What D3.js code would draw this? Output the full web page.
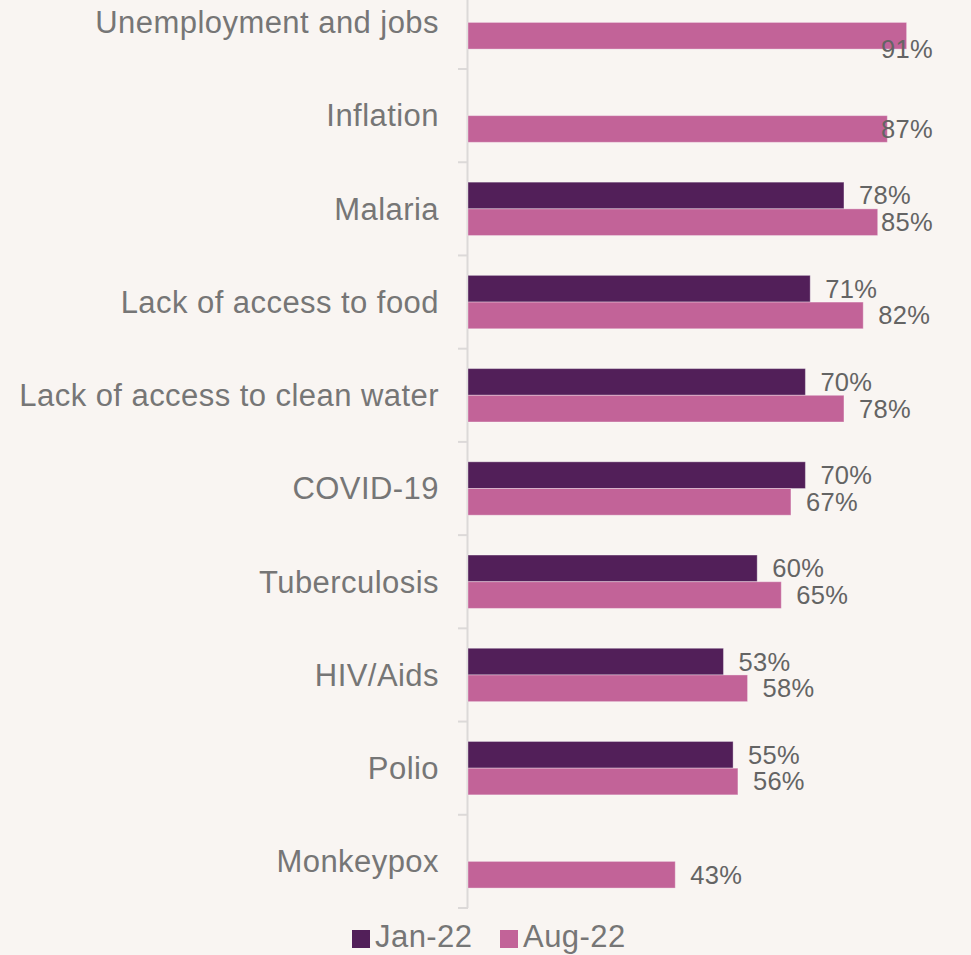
<!DOCTYPE html>
<html>
<head>
<meta charset="utf-8">
<script src="https://cdn.jsdelivr.net/npm/d3@7/dist/d3.min.js"></script>
<style>
  html, body { margin: 0; padding: 0; background: #f9f5f2; }
  svg { display: block; font-family: "Liberation Sans", Arial, sans-serif; }
</style>
</head>
<body>
<svg id="chart" width="971" height="955"></svg>
<script>
// Share of respondents naming each issue, two survey waves
const categories = [
  "Unemployment and jobs",
  "Inflation",
  "Malaria",
  "Lack of access to food",
  "Lack of access to clean water",
  "COVID-19",
  "Tuberculosis",
  "HIV/Aids",
  "Polio",
  "Monkeypox"
];
const seriesNames = ["Jan-22", "Aug-22"];
const jan22 = [null, null, 78, 71, 70, 70, 60, 53, 55, null];
const aug22 = [91, 87, 85, 82, 78, 67, 65, 58, 56, 43];
const seriesColors = ["#521f59", "#c26398"];

const svg = d3.select("#chart");

const axisX = 468;
const plotRight = 933;

const y = d3.scaleBand()
  .domain(categories)
  .range([-24.2, 908])
  .paddingInner(0)
  .paddingOuter(0);

const barH = 26.7;
const inner = d3.scaleBand()
  .domain(seriesNames)
  .range([y.bandwidth() / 2 - barH, y.bandwidth() / 2 + barH]);

const x = d3.scaleLinear().domain([0, 100]).range([axisX, axisX + 482]);

const rows = categories.map((c, i) => ({
  cat: c,
  values: [jan22[i], aug22[i]]
}));

// Category axis on the left with band-boundary ticks
const axisG = svg.append("g");
axisG.append("line")
  .attr("x1", axisX - 0.5).attr("x2", axisX - 0.5)
  .attr("y1", 0).attr("y2", y.range()[1])
  .attr("stroke", "#dcd9d8").attr("stroke-width", 2);
const boundaries = categories.map(c => y(c)).concat([y.range()[1]]);
axisG.selectAll("line.tick").data(boundaries).join("line")
  .attr("class", "tick")
  .attr("x1", axisX - 10).attr("x2", axisX)
  .attr("y1", d => d).attr("y2", d => d)
  .attr("stroke", "#dcd9d8").attr("stroke-width", 2);

axisG.selectAll("text.cat").data(categories).join("text")
  .attr("class", "cat")
  .attr("x", axisX - 29)
  .attr("y", d => y(d) + y.bandwidth() / 2)
  .attr("dy", "0.35em")
  .attr("text-anchor", "end")
  .attr("font-size", 31)
  .attr("letter-spacing", 0.45)
  .attr("fill", "#767676")
  .text(d => d);

// Bars
const groups = svg.append("g").selectAll("g").data(rows).join("g")
  .attr("transform", d => `translate(0,${y(d.cat)})`);

const cells = groups.selectAll("g.cell")
  .data(d => d.values.map((v, k) => ({ v, k, name: seriesNames[k] })).filter(e => e.v != null))
  .join("g").attr("class", "cell");

cells.append("rect")
  .attr("x", x(0))
  .attr("y", d => inner(d.name))
  .attr("width", d => x(d.v) - x(0))
  .attr("height", inner.bandwidth())
  .attr("fill", d => seriesColors[d.k])
  .attr("stroke", "rgba(255,255,255,0.35)")
  .attr("stroke-width", 1);

// Value labels: right of each bar, kept inside the plot area
const labelSize = 25.5;
cells.append("text")
  .attr("font-size", labelSize)
  .attr("letter-spacing", 0.3)
  .attr("fill", "#646464")
  .attr("dy", "0.35em")
  .text(d => d.v + "%")
  .each(function(d) {
    const t = d3.select(this);
    const w = this.getComputedTextLength();
    let lx = x(d.v) + 15;
    let ly = inner(d.name) + inner.bandwidth() / 2;
    if (lx + w > plotRight) {
      lx = plotRight - w;
      if (lx < x(d.v) - 10) ly += inner.bandwidth() / 2;
    }
    t.attr("x", lx).attr("y", ly);
  });

// Legend
const legend = svg.append("g").attr("transform", "translate(352,947)");
const legendItems = [
  { name: seriesNames[0], color: seriesColors[0], x: 0 },
  { name: seriesNames[1], color: seriesColors[1], x: 148 }
];
const li = legend.selectAll("g").data(legendItems).join("g")
  .attr("transform", d => `translate(${d.x},0)`);
li.append("rect")
  .attr("x", 0).attr("y", -17)
  .attr("width", 18).attr("height", 18)
  .attr("fill", d => d.color);
li.append("text")
  .attr("x", 23).attr("y", 0)
  .attr("font-size", 31)
  .attr("letter-spacing", 0.45)
  .attr("fill", "#767676")
  .text(d => d.name);
</script>
</body>
</html>
